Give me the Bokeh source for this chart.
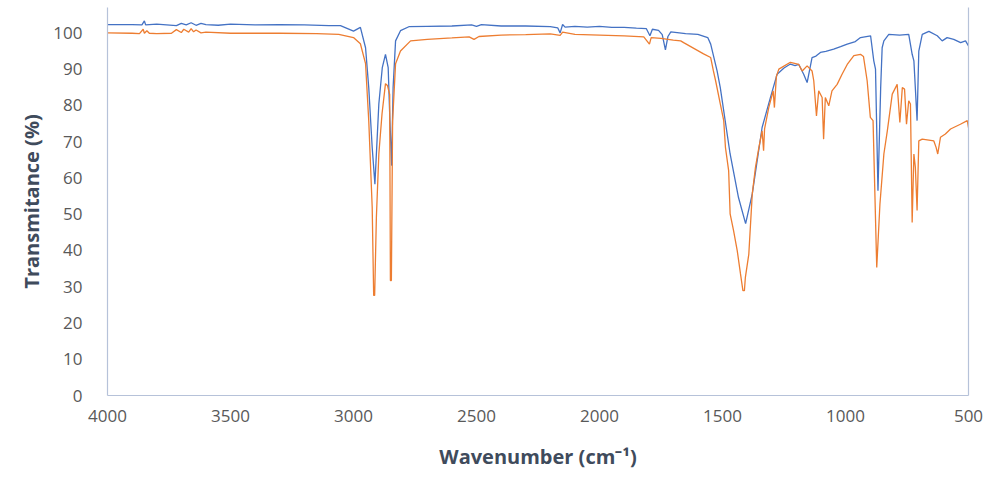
from bokeh.plotting import figure
from bokeh.models import Range1d, FixedTicker, LinearAxis
from bokeh.embed import file_html
from bokeh.resources import INLINE

# FTIR spectra: wavenumber (cm-1) and transmittance (%)
blue_wn = [4000, 3900, 3860, 3850, 3845, 3800, 3720, 3700, 3680, 3660, 3640, 3620, 3600,
           3550, 3500, 3400, 3300, 3200, 3100, 3053, 3000, 2972, 2951, 2938, 2924, 2913,
           2897, 2883, 2870, 2859, 2852, 2845, 2839, 2829, 2809, 2775, 2700, 2600, 2520,
           2500, 2480, 2400, 2300, 2200, 2170, 2160, 2150, 2140, 2100, 2050, 2000, 1950,
           1900, 1850, 1810, 1795, 1785, 1760, 1745, 1732, 1722, 1710, 1650, 1600, 1560,
           1548, 1522, 1509, 1469, 1435, 1406, 1379, 1339, 1305, 1278, 1250, 1224, 1205,
           1190, 1170, 1156, 1136, 1120, 1102, 1080, 1048, 1020, 993, 960, 939, 898, 885,
           878, 868, 857, 851, 844, 824, 780, 743, 729, 722, 709, 702, 688, 661, 627, 607,
           587, 560, 532, 512, 500]
blue_t = [102.3, 102.3, 102.2, 103.3, 102.2, 102.4, 102.0, 102.6, 102.2, 102.8, 102.1, 102.6, 102.3,
          102.1, 102.4, 102.2, 102.3, 102.2, 102.0, 102.0, 100.5, 101.5, 95.9, 84.9, 68.4, 58.3,
          80.4, 90.4, 94.1, 90.4, 75.8, 63.4, 84.9, 97.8, 100.6, 101.7, 101.8, 101.9, 102.2,
          101.8, 102.3, 101.9, 101.9, 101.7, 101.4, 100.0, 102.3, 101.6, 101.8, 101.6, 101.8, 101.5,
          101.5, 101.3, 101.2, 99.2, 101.0, 100.7, 99.5, 95.3, 99.0, 100.3, 99.8, 99.6, 98.7,
          96.9, 89.5, 84.9, 66.6, 54.6, 47.4, 55.6, 73.9, 82.2, 88.6, 90.3, 91.4, 91.0,
          91.3, 88.6, 86.3, 93.2, 93.6, 94.6, 94.9, 95.5, 96.2, 96.9, 97.6, 98.7, 99.2, 92.3,
          90.0, 56.5, 84.9, 95.9, 97.8, 99.6, 99.4, 99.6, 94.1, 92.3, 75.8, 95.0, 99.6, 100.4, 99.2, 97.8,
          98.7, 98.2, 97.3, 97.8, 96.4]

orange_wn = [4000, 3900, 3870, 3855, 3850, 3840, 3830, 3800, 3740, 3720, 3700, 3690, 3670,
             3660, 3650, 3640, 3620, 3600, 3500, 3300, 3150, 3060, 3000, 2972, 2951, 2938,
             2924, 2918, 2914, 2907, 2897, 2884, 2870, 2862, 2853, 2850, 2846, 2841, 2829,
             2809, 2768, 2700, 2600, 2530, 2510, 2490, 2400, 2300, 2200, 2160, 2150, 2100,
             2000, 1900, 1820, 1797, 1790, 1750, 1700, 1670, 1658, 1577, 1548, 1537, 1528,
             1509, 1495, 1488, 1475, 1469, 1455, 1440, 1427, 1417, 1411, 1407, 1393, 1379,
             1366, 1352, 1339, 1333, 1329, 1312, 1294, 1289, 1281, 1271, 1224, 1190, 1176,
             1156, 1136, 1129, 1118, 1109, 1095, 1089, 1082, 1068, 1055, 1034, 1014, 993,
             966, 939, 927, 912, 899, 888, 873, 860, 844, 830, 810, 790, 779, 769, 760, 752,
             743, 736, 729, 722, 716, 709, 702, 688, 641, 632, 625, 614, 594, 573, 533, 505, 500]
orange_t = [100.0, 99.9, 99.8, 101.0, 99.9, 100.6, 99.9, 99.8, 99.9, 100.9, 100.1, 101.0, 100.2,
            101.2, 100.3, 100.8, 100.0, 100.2, 99.9, 99.9, 99.8, 99.6, 98.7, 97.0, 91.5, 75.8,
            51.9, 27.6, 27.6, 49.1, 66.6, 77.7, 86.0, 85.5, 83.0, 31.7, 31.7, 75.8, 91.5,
            95.0, 97.8, 98.2, 98.6, 98.9, 98.2, 99.0, 99.4, 99.5, 99.7, 99.3, 100.2, 99.6,
            99.4, 99.2, 98.9, 96.9, 98.7, 98.5, 98.0, 97.8, 97.3, 94.2, 93.2, 89.5, 86.8,
            80.4, 75.8, 68.4, 62.0, 50.1, 45.5, 39.9, 33.6, 28.9, 28.9, 32.6, 39.0, 55.6,
            62.9, 68.4, 73.0, 67.5, 73.5, 79.4, 84.0, 79.4, 88.0, 90.0, 91.9, 91.3, 89.5,
            90.9, 89.5, 86.8, 77.1, 84.0, 82.2, 70.7, 82.2, 79.9, 84.0, 85.8, 88.6, 91.3,
            93.7, 94.1, 93.5, 86.8, 76.7, 75.8, 35.3, 52.8, 66.6, 73.0, 83.1, 85.8, 75.3, 84.9, 84.5, 74.8,
            81.3, 80.4, 47.7, 66.6, 62.9, 51.0, 70.2, 70.7, 70.2, 68.5, 66.6, 71.2, 72.1, 73.5, 74.8, 75.8, 73.9]

x_ticks = [4000, 3500, 3000, 2500, 2000, 1500, 1000, 500]
y_ticks = [0, 10, 20, 30, 40, 50, 60, 70, 80, 90, 100]

FRAME = "#b6c2d9"
TICK_COLOR = "#595959"
TITLE_COLOR = "#3f4b5c"

p = figure(width=995, height=477, output_backend="svg", toolbar_location=None,
           x_range=Range1d(4000, 500), y_range=Range1d(0, 107),
           min_border_left=107, min_border_right=27, min_border_top=7, min_border_bottom=82)
p.outline_line_color = None
p.xgrid.visible = False
p.ygrid.visible = False
p.background_fill_color = "white"
p.border_fill_color = "white"

p.line(blue_wn, blue_t, line_color="#4472C4", line_width=1.3)
p.line(orange_wn, orange_t, line_color="#ED7D31", line_width=1.3)

for ax in (p.xaxis[0], p.yaxis[0]):
    ax.axis_line_color = FRAME
    ax.axis_line_width = 1.2
    ax.major_tick_line_color = None
    ax.minor_tick_line_color = None
    ax.major_label_text_color = TICK_COLOR
    ax.major_label_text_font = "Open Sans"
    ax.major_label_text_font_size = "17px"
    ax.axis_label_text_color = TITLE_COLOR
    ax.axis_label_text_font = "Open Sans"
    ax.axis_label_text_font_style = "bold"
    ax.axis_label_text_font_size = "20px"

p.xaxis.ticker = FixedTicker(ticks=x_ticks)
p.yaxis.ticker = FixedTicker(ticks=y_ticks)
p.xaxis.axis_label = "Wavenumber (cm\u207b\u00b9)"
p.yaxis.axis_label = "Transmitance (%)"
p.yaxis.major_label_standoff = 19
p.yaxis.axis_label_standoff = 5
p.xaxis.major_label_standoff = 8
p.xaxis.axis_label_standoff = 18

# plain line closing the right side of the plot area
right = LinearAxis(ticker=FixedTicker(ticks=[]), axis_line_color=FRAME, axis_line_width=1.2,
                   major_tick_line_color=None, minor_tick_line_color=None)
p.add_layout(right, "right")

open("out.html", "w").write(file_html(p, INLINE))
